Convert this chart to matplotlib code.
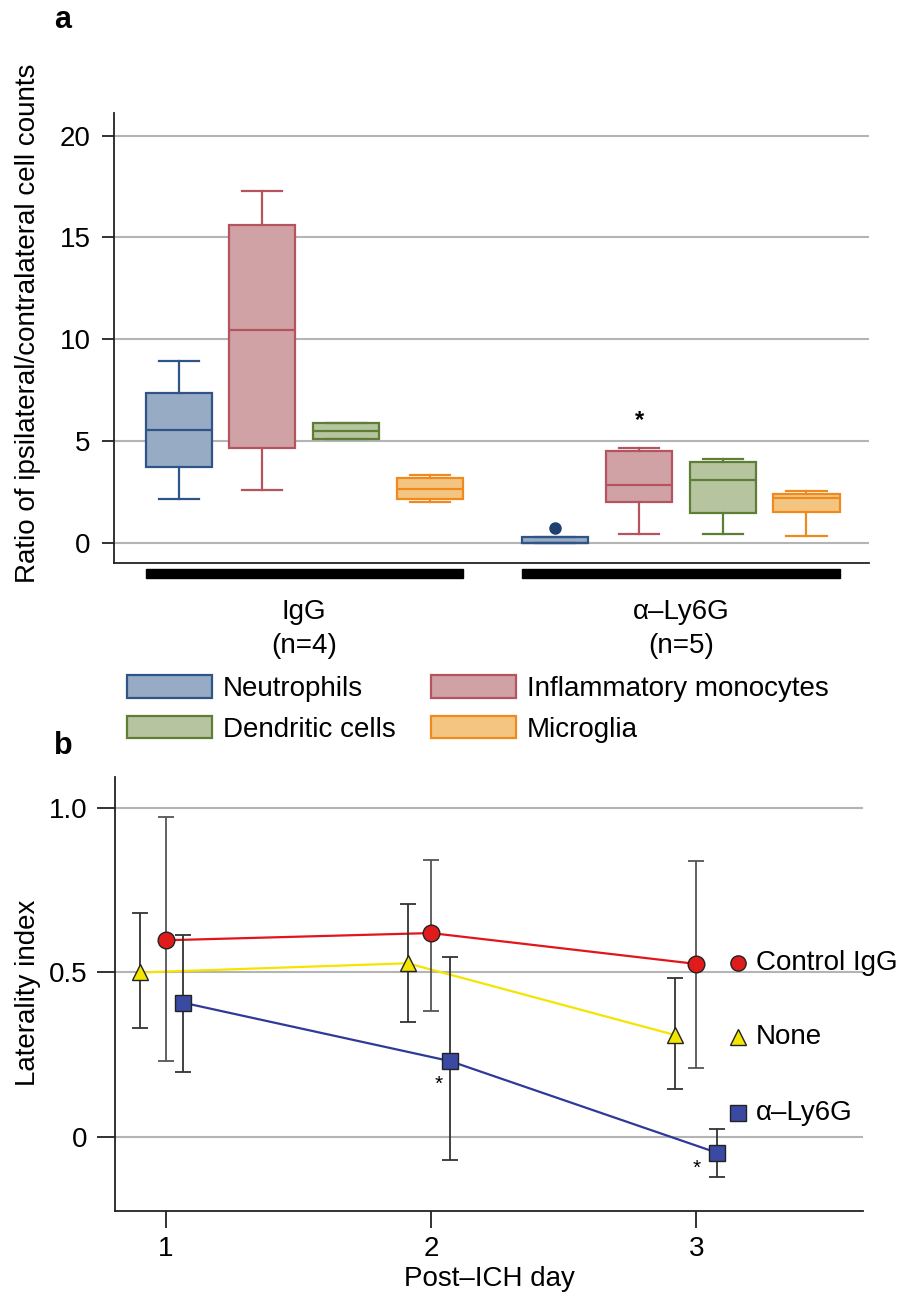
import matplotlib.pyplot as plt
from matplotlib.patches import Patch, Rectangle
import matplotlib.transforms as mtransforms

plt.rcParams['font.family'] = ['Liberation Sans', 'DejaVu Sans']
FS = 20

# ---- panel a data (box stats) ----
cells = ['Neutrophils', 'Inflammatory monocytes', 'Dendritic cells', 'Microglia']
face = ['#98abc4', '#d1a2a5', '#b6c5a0', '#f4c580']
edge = ['#2f5486', '#b5545e', '#5e7e36', '#ee8a1e']
groups = ['IgG\n(n=4)', '\u03b1\u2013Ly6G\n(n=5)']

igg_whislo = [2.15, 2.58, 5.11, 2.02]
igg_q1 = [3.71, 4.66, 5.11, 2.17]
igg_med = [5.53, 10.46, 5.48, 2.66]
igg_q3 = [7.34, 15.63, 5.90, 3.19]
igg_whishi = [8.93, 17.3, 5.90, 3.32]
igg_fliers = [[], [], [], []]

ly_whislo = [0.0, 0.43, 0.43, 0.36]
ly_q1 = [0.0, 2.02, 1.46, 1.53]
ly_med = [0.0, 2.84, 3.07, 2.23]
ly_q3 = [0.30, 4.52, 3.97, 2.41]
ly_whishi = [0.30, 4.65, 4.10, 2.56]
ly_fliers = [[0.75], [], [], []]

# ---- panel b data ----
days = [1, 2, 3]
ctrl_mean = [0.598, 0.620, 0.526]
ctrl_lo = [0.230, 0.384, 0.209]
ctrl_hi = [0.974, 0.841, 0.840]
none_mean = [0.50, 0.528, 0.31]
none_lo = [0.330, 0.350, 0.145]
none_hi = [0.682, 0.709, 0.484]
ly_mean = [0.408, 0.230, -0.049]
ly_lo = [0.196, -0.071, -0.124]
ly_hi = [0.614, 0.546, 0.024]

fig = plt.figure(figsize=(9.08, 13.01), dpi=100)

# ================= panel a =================
ax = fig.add_axes([114/908, 1-563.3/1301, (869-114)/908, (563.3-113)/1301])
stats = []
for i in range(4):
    stats.append(dict(whislo=igg_whislo[i], q1=igg_q1[i], med=igg_med[i], q3=igg_q3[i],
                      whishi=igg_whishi[i], fliers=igg_fliers[i]))
for i in range(4):
    stats.append(dict(whislo=ly_whislo[i], q1=ly_q1[i], med=ly_med[i], q3=ly_q3[i],
                      whishi=ly_whishi[i], fliers=ly_fliers[i]))
pos = [0, 1, 2, 3, 4.5, 5.5, 6.5, 7.5]
bp = ax.bxp(stats, positions=pos, widths=0.79, patch_artist=True, capwidths=0.48,
            manage_ticks=False)
for k in range(8):
    c = k % 4
    bp['boxes'][k].set(facecolor=face[c], edgecolor=edge[c], linewidth=1.6)
    bp['medians'][k].set(color=edge[c], linewidth=1.6)
    for w in bp['whiskers'][2*k:2*k+2]:
        w.set(color=edge[c], linewidth=1.6)
    for cp in bp['caps'][2*k:2*k+2]:
        cp.set(color=edge[c], linewidth=1.6)
    bp['fliers'][k].set(marker='o', markerfacecolor='#1f3f6e', markeredgecolor='#1f3f6e',
                        markersize=8)

ax.set_ylim(-1.0, 21.11)
ax.set_xlim(-0.773, 8.247)
ax.set_yticks([0, 5, 10, 15, 20])
ax.yaxis.grid(True, color='#b4b4b4', linewidth=1.5)
ax.set_axisbelow(True)
ax.set_xticks([])
for s in ['top', 'right']:
    ax.spines[s].set_visible(False)
for s in ['left', 'bottom']:
    ax.spines[s].set_linewidth(1.3)
    ax.spines[s].set_color('#222222')
ax.tick_params(axis='y', length=9, width=1.3, pad=8, labelsize=FS, color='#222222')

tr = mtransforms.blended_transform_factory(ax.transData, ax.transAxes)
for gi, (x0, x1) in enumerate([(-0.395, 3.395), (4.105, 7.895)]):
    ax.add_patch(Rectangle((x0, -0.0326), x1 - x0, 0.02, transform=tr, color='black',
                           clip_on=False))
    ax.text((x0 + x1) / 2, -0.079, groups[gi], transform=tr, ha='center', va='top',
            fontsize=FS, linespacing=1.4)
ax.text(5.5, 6.0, '*', ha='center', va='center', fontsize=17, fontweight='bold')

handles = [Patch(facecolor=face[i], edgecolor=edge[i], linewidth=1.6) for i in range(4)]
order = [0, 2, 1, 3]
fig.legend([handles[i] for i in order], [cells[i] for i in order], ncol=2,
           loc='upper left', bbox_to_anchor=(127/908, 1-675/1301), frameon=False,
           fontsize=FS, handlelength=3.06, handleheight=0.87, handletextpad=0.4,
           columnspacing=1.25, labelspacing=0.5, borderpad=0, borderaxespad=0)

fig.text(28/908, 1-323/1301, 'Ratio of ipsilateral/contralateral cell counts',
         rotation=90, ha='center', va='center', fontsize=FS)
fig.text(63/908, 1-20/1301, 'a', ha='center', va='center', fontsize=22, fontweight='bold')
fig.text(63/908, 1-746/1301, 'b', ha='center', va='center', fontsize=22, fontweight='bold')

# ================= panel b =================
bx = fig.add_axes([115/908, 1-1211/1301, (863-115)/908, (1211-777)/1301])
series = [
    ('Control IgG', ctrl_mean, ctrl_lo, ctrl_hi, [1.0, 2.0, 3.0], '#e3151b', '#e01b1b', 'o', 12, '#555555'),
    ('None', none_mean, none_lo, none_hi, [0.904, 1.912, 2.918], '#f5e400', '#f2e500', '^', 12, '#333333'),
    ('\u03b1\u2013Ly6G', ly_mean, ly_lo, ly_hi, [1.066, 2.073, 3.079], '#2d3a98', '#3a4aa2', 's', 11, '#333333'),
]
label_y = [0.528, 0.304, 0.071]
for j, (name, m, lo, hi, xs, lc, fc, mk, ms, ec) in enumerate(series):
    bx.plot(xs, m, color=lc, linewidth=1.6, zorder=2)
    yerr = [[m[i] - lo[i] for i in range(3)], [hi[i] - m[i] for i in range(3)]]
    bx.errorbar(xs, m, yerr=yerr, fmt='none', ecolor=ec, elinewidth=1.3, capsize=6,
                capthick=1.3, zorder=3)
    bx.plot(xs, m, linestyle='none', marker=mk, markersize=ms, markerfacecolor=fc,
            markeredgecolor='#222222', markeredgewidth=1.0, zorder=4)
    bx.plot([3.156], [label_y[j]], marker=mk, markersize=11,
            markerfacecolor=fc, markeredgecolor='#222222', markeredgewidth=1.0, zorder=4)
    bx.text(3.225, label_y[j], name, ha='left', va='center', fontsize=FS)

bx.text(2.03, 0.16, '*', ha='center', va='center', fontsize=15)
bx.text(3.0, -0.095, '*', ha='center', va='center', fontsize=15)

bx.set_xlim(0.809, 3.628)
bx.set_ylim(-0.226, 1.095)
bx.set_xticks(days)
bx.set_yticks([0, 0.5, 1.0])
bx.set_yticklabels(['0', '0.5', '1.0'])
bx.yaxis.grid(True, color='#b4b4b4', linewidth=1.5)
bx.set_axisbelow(True)
for s in ['top', 'right']:
    bx.spines[s].set_visible(False)
for s in ['left', 'bottom']:
    bx.spines[s].set_linewidth(1.3)
    bx.spines[s].set_color('#222222')
bx.tick_params(axis='y', length=13, width=1.3, pad=7, labelsize=FS, color='#222222')
bx.tick_params(axis='x', length=12, width=1.3, pad=6, labelsize=FS, color='#222222')
bx.set_xlabel('Post\u2013ICH day', fontsize=FS, labelpad=3)
fig.text(28/908, 1-993/1301, 'Laterality index', rotation=90, ha='center', va='center',
         fontsize=FS)

fig.savefig('out.png', dpi=100)
